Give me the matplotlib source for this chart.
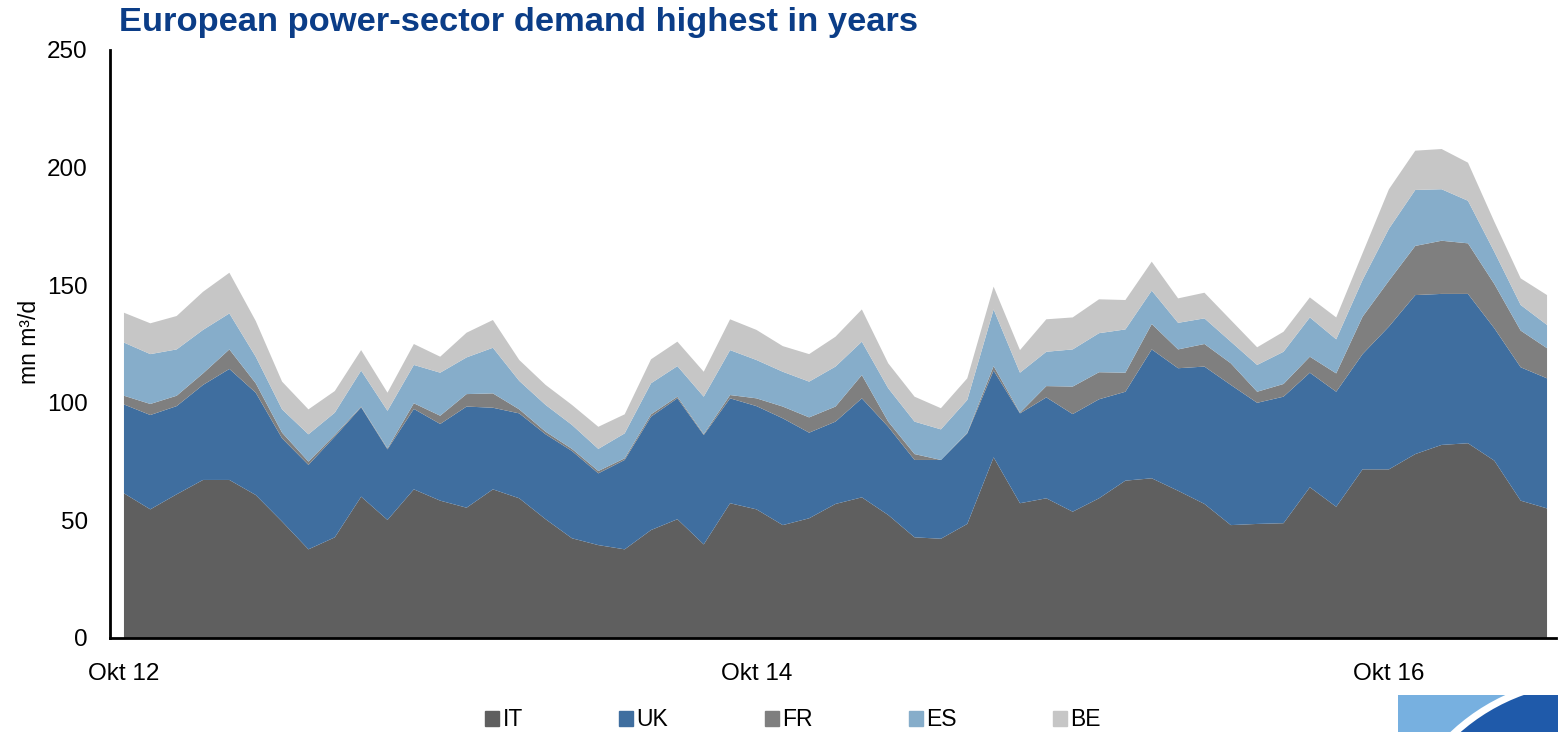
import matplotlib.pyplot as plt
import matplotlib.patches as mpatches
import numpy as np

plt.rcParams["font.family"] = ["Liberation Sans", "DejaVu Sans"]

# monthly values, Okt 12 .. Apr 17 (mn m3/d)
countries = ["IT", "UK", "FR", "ES", "BE"]
it = [61.5, 54.7, 61.1, 67.2, 67.2, 60.8, 49.5, 37.7, 42.8, 60.1, 50.2, 63.2, 58.4, 55.4,
      63.2, 59.4, 50.5, 42.4, 39.5, 37.7, 45.9, 50.5, 39.8, 57.3, 54.7, 48.0, 50.9, 57.0,
      59.8, 52.3, 42.8, 42.2, 48.5, 76.8, 57.3, 59.4, 53.7, 59.4, 66.9, 67.9, 62.6, 57.0,
      48.0, 48.5, 48.8, 64.1, 55.8, 71.7, 71.7, 78.2, 82.1, 82.8, 75.4, 58.4, 55.1]
uk = [37.8, 40.1, 37.5, 40.4, 47.2, 43.5, 35.4, 35.9, 42.8, 38.0, 30.0, 34.2, 32.6, 43.0,
      34.7, 36.1, 36.1, 37.1, 30.5, 38.0, 48.2, 51.4, 46.5, 44.6, 43.9, 45.4, 36.4, 35.0,
      42.1, 37.5, 32.9, 33.5, 38.5, 36.9, 38.2, 42.9, 41.5, 42.1, 37.8, 54.8, 52.1, 58.4,
      59.6, 51.5, 53.8, 48.7, 48.9, 49.0, 60.7, 67.6, 64.2, 63.5, 56.3, 56.7, 55.3]
fr = [3.7, 4.7, 4.4, 4.9, 8.3, 4.0, 2.4, 1.4, 0.7, 0.3, 0.4, 2.4, 3.5, 5.3,
      6.1, 1.7, 1.1, 0.9, 1.0, 0.7, 1.0, 0.7, 0.4, 1.4, 3.3, 5.0, 6.5, 6.4,
      9.9, 2.2, 2.5, 0.0, 0.3, 1.9, 0.3, 4.8, 11.7, 11.5, 8.1, 10.8, 8.0, 9.6,
      9.2, 4.7, 5.4, 6.8, 7.8, 15.9, 19.5, 20.9, 22.6, 21.5, 18.8, 15.6, 12.8]
es = [22.6, 21.2, 19.7, 18.5, 15.3, 11.3, 9.9, 11.6, 9.5, 15.3, 16.0, 16.3, 18.3, 15.6,
      19.4, 12.1, 11.4, 10.2, 9.4, 10.6, 13.2, 13.0, 15.9, 19.1, 16.3, 14.8, 15.2, 17.0,
      14.2, 14.2, 13.8, 13.0, 13.9, 24.1, 17.0, 14.6, 15.8, 16.6, 18.4, 14.2, 11.3, 10.9,
      9.2, 11.4, 13.7, 16.7, 14.5, 15.6, 22.1, 23.8, 21.9, 18.1, 13.7, 10.9, 9.9]
be = [12.7, 13.1, 14.2, 16.2, 17.3, 15.2, 11.8, 10.6, 9.2, 8.7, 7.7, 8.9, 6.8, 10.5,
      11.8, 8.9, 8.5, 8.5, 9.4, 8.1, 10.2, 10.4, 10.6, 13.1, 12.8, 10.9, 11.7, 12.7,
      13.7, 10.6, 10.6, 9.0, 9.2, 9.7, 9.6, 13.8, 13.6, 14.4, 12.5, 12.3, 10.4, 10.9,
      9.2, 7.5, 8.5, 8.5, 9.3, 11.4, 16.8, 16.7, 17.1, 16.2, 12.8, 11.3, 12.7]
tick_pos = [0, 24, 48]
tick_labels = ["Okt 12", "Okt 14", "Okt 16"]

colors = ["#5f5f5f", "#3f6e9f", "#7f7f7f", "#86adca", "#c6c6c6"]

fig = plt.figure(figsize=(15.58, 7.32), dpi=100)
ax = fig.add_axes([110 / 1558, 94 / 732, 1446 / 1558, 588 / 732])

x = np.arange(len(it))
ax.stackplot(x, it, uk, fr, es, be, colors=colors, labels=countries, linewidth=0)

ax.set_xlim(-0.53, 54.34)
ax.set_ylim(0, 250)
ax.set_yticks(range(0, 251, 50))
ax.set_xticks(tick_pos)
ax.set_xticklabels(tick_labels)
ax.tick_params(axis="y", length=0, pad=16, labelsize=17.5)
ax.tick_params(axis="x", length=0, pad=18, labelsize=17.5)
for s in ["top", "right"]:
    ax.spines[s].set_visible(False)
for s in ["left", "bottom"]:
    ax.spines[s].set_linewidth(2)
    ax.spines[s].set_color("black")

fig.text(119 / 1558, 1 - 22 / 732, "European power-sector demand highest in years",
         fontsize=24.8, fontweight="bold", color="#0b3d87", va="center", ha="left")
fig.text(30 / 1558, 1 - 342 / 732, "mn m³/d", rotation=90, fontsize=16.5,
         va="center", ha="center")

handles = [mpatches.Patch(color=c) for c in colors]
fig.legend(handles, countries, loc="center", ncol=5, frameon=False, fontsize=16.5,
           bbox_to_anchor=(793 / 1558, 1 - 720 / 732), handlelength=0.61,
           handleheight=0.61, handletextpad=0.15, columnspacing=4.2)

# logo in the corner
lax = fig.add_axes([0, 0, 1, 1], zorder=-1)
lax.set_xlim(0, 1558)
lax.set_ylim(732, 0)
lax.axis("off")
rect = mpatches.Rectangle((1398, 695), 160, 37, facecolor="#77b0e0", edgecolor="none")
lax.add_patch(rect)
circ = mpatches.Circle((1590, 880), 200, facecolor="#1f5aaa", edgecolor="white", linewidth=5)
lax.add_patch(circ)
circ.set_clip_path(rect)

fig.savefig("out.png", dpi=100)
